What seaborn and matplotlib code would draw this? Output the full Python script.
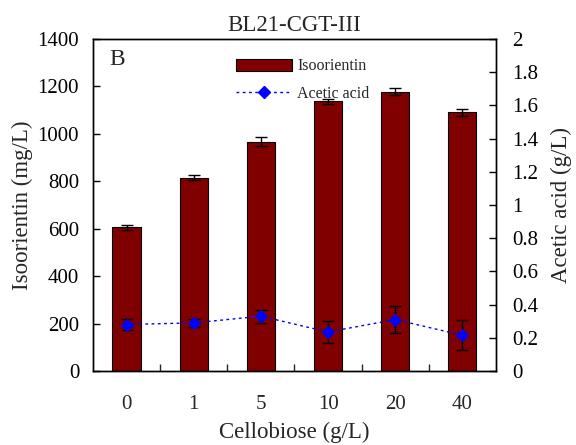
import numpy as np
import pandas as pd
import matplotlib
matplotlib.use("Agg")
import matplotlib.pyplot as plt
import seaborn as sns
from matplotlib.ticker import FixedLocator, FuncFormatter
from matplotlib.patches import Patch
from matplotlib.lines import Line2D

categories = ["0", "1", "5", "10", "20", "40"]
isoorientin = [606, 815, 967, 1137, 1178, 1090]
isoorientin_err = [10, 10, 20, 12, 14, 15]
acetic = [0.28, 0.29, 0.33, 0.235, 0.31, 0.215]
acetic_err = [0.032, 0.024, 0.04, 0.068, 0.08, 0.09]

sns.set_theme(style="ticks")
plt.rcParams["font.family"] = ["Liberation Serif", "DejaVu Serif"]

fig = plt.figure(figsize=(5.76, 4.45), dpi=100)
ax = fig.add_axes([0.1615, 0.1663, 0.861 - 0.1615, 0.9124 - 0.1663])

df = pd.DataFrame({"cat": categories, "iso": isoorientin})
sns.barplot(data=df, x="cat", y="iso", order=categories, color="#800000",
            edgecolor="black", linewidth=0.8, width=0.42, saturation=1, ax=ax,
            errorbar=None)
pos = np.arange(len(categories))
ax.errorbar(pos, isoorientin, yerr=isoorientin_err, fmt="none", ecolor="black",
            elinewidth=1, capsize=4, capthick=1, zorder=5)

ax.set_xlim(-0.5, len(categories) - 0.5)
ax.set_ylim(0, 1400)
ax.set_yticks(np.arange(0, 1401, 200))
ax.tick_params(axis="y", direction="in", length=5, width=1, labelsize=15,
               colors="black", pad=10)
ax.tick_params(axis="x", which="major", length=0, labelsize=15, pad=17)
ax.xaxis.set_minor_locator(FixedLocator(pos[:-1] + 0.5))
ax.tick_params(axis="x", which="minor", direction="in", length=5, width=1)
for s in ax.spines.values():
    s.set_color("black")
    s.set_linewidth(1)
ax.set_xlabel("Cellobiose (g/L)", fontsize=16.5, labelpad=6)
ax.set_ylabel("Isoorientin (mg/L)", fontsize=16.5, labelpad=3)
ax.set_title("BL21-CGT-III", fontsize=16.5, pad=6)
ax.text(0.04, 0.97, "B", transform=ax.transAxes, fontsize=17, va="top", ha="left")

ax2 = ax.twinx()
ax2.errorbar(pos, acetic, yerr=acetic_err, fmt="none", ecolor="black",
             elinewidth=1, capsize=4, capthick=1, zorder=4)
sns.lineplot(x=pos, y=acetic, ax=ax2, color="blue", linestyle=(0, (2, 2.5)),
             linewidth=1, marker="D", markersize=6, markeredgecolor="blue",
             markerfacecolor="blue", zorder=5)
ax2.set_ylim(0, 2)
ax2.set_yticks(np.arange(0, 2.01, 0.2))
ax2.yaxis.set_major_formatter(FuncFormatter(lambda v, p: f"{round(v, 1):g}"))
ax2.tick_params(axis="y", direction="in", length=5, width=1, labelsize=15,
                colors="black", pad=12)
ax2.set_ylabel("Acetic acid (g/L)", fontsize=16.5)
ax2.yaxis.set_label_coords(1.135, 0.5)
for s in ax2.spines.values():
    s.set_color("black")
    s.set_linewidth(1)

handles = [Patch(facecolor="#800000", edgecolor="black", linewidth=0.8),
           Line2D([0], [0], color="blue", linestyle=(0, (2, 2.5)), linewidth=1,
                  marker="D", markersize=6)]
leg = ax2.legend(handles, ["Isoorientin", "Acetic acid"], loc="upper left",
                 bbox_to_anchor=(0.32, 0.985), frameon=False, fontsize=11.5,
                 handlelength=3.5, handleheight=0.75, labelspacing=0.7,
                 handletextpad=0.3)

fig.savefig("out.png", dpi=100)
